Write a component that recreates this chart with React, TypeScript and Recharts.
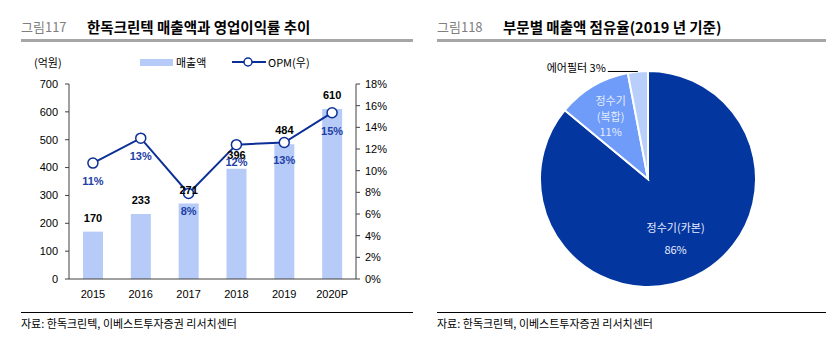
import React from "react";
import {
  ComposedChart,
  Bar,
  Line,
  XAxis,
  YAxis,
  LabelList,
  PieChart,
  Pie,
  Cell,
} from "recharts";

// 그림117 data
const years = ["2015", "2016", "2017", "2018", "2019", "2020P"];
const sales = [170, 233, 271, 396, 484, 610];
const opm = [10.7, 13.0, 7.9, 12.4, 12.6, 15.35];
const salesTicks = [0, 100, 200, 300, 400, 500, 600, 700];
const opmTicks = [0, 2, 4, 6, 8, 10, 12, 14, 16, 18];

// 그림118 data
const segNames = ["정수기(카본)", "정수기\n(복합)", "에어필터"];
const segShares = [86, 11, 3];
const segColors = ["#0436A0", "#6F9CF8", "#B8CEFB"];

const NUM_FONT = "'Liberation Sans', Arial, sans-serif";
const KR_FONT = "'Noto Sans CJK KR', 'Noto Sans', sans-serif";
const BAR_COLOR = "#B6CBF7";
const LINE_COLOR = "#0B2F96";
const OPM_LABEL = "#1E40A6";

const comboData = years.map((year, i) => ({ year, sales: sales[i], opm: opm[i] }));
const pieData = segNames.map((name, i) => ({ name, value: segShares[i] }));

const RAD = Math.PI / 180;

function PieLabel(props: any) {
  const { cx, cy, midAngle, outerRadius, index, name, value } = props;
  const cos = Math.cos(-midAngle * RAD);
  const sin = Math.sin(-midAngle * RAD);
  if (index === 2) {
    // small slice: outside label with leader line
    const ex = cx + outerRadius * cos;
    const ey = cy + outerRadius * sin;
    return (
      <g>
        <line x1={ex} y1={ey} x2={ex - 30} y2={ey} stroke="#000" strokeWidth={1} />
        <text x={ex - 32} y={ey + 1} textAnchor="end" fontSize={11} fill="#000" fontFamily={KR_FONT}>
          {`${name}  ${value}%`}
        </text>
      </g>
    );
  }
  const r = index === 0 ? outerRadius * 0.6 : outerRadius * 0.68;
  const x = cx + r * cos;
  const y = cy + r * sin;
  const lines: string[] = [...String(name).split("\n"), `${value}%`];
  const gap = index === 0 ? 22 : 15.5;
  const y0 = y - ((lines.length - 1) * gap) / 2;
  return (
    <text textAnchor="middle" fontSize={11} fill="#E4ECFF" fontFamily={KR_FONT}>
      {lines.map((t, k) => (
        <tspan key={k} x={x} y={y0 + k * gap} dominantBaseline="central">
          {t}
        </tspan>
      ))}
    </text>
  );
}

function Header({ left, width, num, title }: { left: number; width: number; num: string; title: string }) {
  return (
    <>
      <div
        style={{
          position: "absolute",
          left,
          top: 18,
          fontSize: 13,
          color: "#7F7F7F",
          fontFamily: KR_FONT,
          lineHeight: "18px",
        }}
      >
        {num}
      </div>
      <div
        style={{
          position: "absolute",
          left: left + 66,
          top: 17,
          fontSize: 14.5,
          fontWeight: 700,
          color: "#000",
          fontFamily: KR_FONT,
          lineHeight: "20px",
          whiteSpace: "nowrap",
        }}
      >
        {title}
      </div>
      <div style={{ position: "absolute", left, top: 39, width, height: 3, background: "#A6A6A6" }} />
    </>
  );
}

function Source({ left, width }: { left: number; width: number }) {
  return (
    <>
      <div style={{ position: "absolute", left, top: 312, width, height: 1, background: "#000" }} />
      <div
        style={{
          position: "absolute",
          left,
          top: 316,
          fontSize: 11,
          color: "#000",
          fontFamily: KR_FONT,
          lineHeight: "14px",
          whiteSpace: "nowrap",
        }}
      >
        자료: 한독크린텍, 이베스트투자증권 리서치센터
      </div>
    </>
  );
}

export default function App() {
  const tick = { fontSize: 11, fill: "#000", fontFamily: NUM_FONT };
  return (
    <div style={{ position: "absolute", left: 0, top: 0, width: 834, height: 355, background: "#fff" }}>
      <Header left={21} width={392} num="그림117" title="한독크린텍 매출액과 영업이익률 추이" />
      <Header left={437} width={389} num="그림118" title="부문별 매출액 점유율(2019 년 기준)" />

      {/* left legend */}
      <div style={{ position: "absolute", left: 34, top: 54, fontSize: 11, fontFamily: KR_FONT, lineHeight: "16px" }}>
        (억원)
      </div>
      <div style={{ position: "absolute", left: 140, top: 59, width: 33, height: 7, background: BAR_COLOR }} />
      <div style={{ position: "absolute", left: 176, top: 54, fontSize: 11, fontFamily: KR_FONT, lineHeight: "16px" }}>
        매출액
      </div>
      <svg style={{ position: "absolute", left: 231, top: 56 }} width={36} height={12}>
        <line x1={1} y1={6} x2={35} y2={6} stroke={LINE_COLOR} strokeWidth={2} />
        <circle cx={17} cy={6} r={4} fill="#fff" stroke={LINE_COLOR} strokeWidth={1.5} />
      </svg>
      <div style={{ position: "absolute", left: 268, top: 54, fontSize: 11, fontFamily: KR_FONT, lineHeight: "16px" }}>
        OPM(우)
      </div>

      <div style={{ position: "absolute", left: 0, top: 50 }}>
        <ComposedChart width={420} height={260} data={comboData} margin={{ top: 34, right: 24, bottom: 1, left: 9 }}>
          <XAxis
            dataKey="year"
            tick={tick}
            tickLine={false}
            axisLine={{ stroke: "#404040" }}
            tickMargin={5}
            height={30}
          />
          <YAxis
            yAxisId="left"
            domain={[0, 700]}
            ticks={salesTicks}
            tick={tick}
            tickSize={4}
            tickMargin={7}
            axisLine={{ stroke: "#404040" }}
            tickLine={{ stroke: "#404040" }}
            width={60}
            interval={0}
          />
          <YAxis
            yAxisId="right"
            orientation="right"
            domain={[0, 18]}
            ticks={opmTicks}
            tick={tick}
            tickFormatter={(v: number) => `${v}%`}
            tickSize={4}
            tickMargin={5}
            axisLine={{ stroke: "#404040" }}
            tickLine={{ stroke: "#404040" }}
            width={40}
            interval={0}
          />
          <Bar yAxisId="left" dataKey="sales" fill={BAR_COLOR} barSize={20} isAnimationActive={false}>
            <LabelList
              dataKey="sales"
              position="top"
              offset={10}
              style={{ fontSize: 11, fontWeight: 700, fill: "#000", fontFamily: NUM_FONT }}
            />
          </Bar>
          <Line
            yAxisId="right"
            dataKey="opm"
            stroke={LINE_COLOR}
            strokeWidth={2}
            dot={{ r: 5, fill: "#fff", stroke: LINE_COLOR, strokeWidth: 1.5 }}
            isAnimationActive={false}
          >
            <LabelList
              dataKey="opm"
              position="bottom"
              offset={14}
              formatter={(v: any) => `${Math.round(Number(v))}%`}
              style={{ fontSize: 11, fontWeight: 700, fill: OPM_LABEL, fontFamily: NUM_FONT }}
            />
          </Line>
        </ComposedChart>
      </div>

      <div style={{ position: "absolute", left: 420, top: 50 }}>
        <PieChart width={414} height={250}>
          <Pie
            data={pieData}
            dataKey="value"
            nameKey="name"
            cx={223}
            cy={124}
            outerRadius={108}
            startAngle={90}
            endAngle={-270}
            stroke="#fff"
            strokeWidth={2}
            labelLine={false}
            label={PieLabel}
            isAnimationActive={false}
          >
            {pieData.map((d, i) => (
              <Cell key={d.name} fill={segColors[i]} />
            ))}
          </Pie>
        </PieChart>
      </div>

      <Source left={21} width={392} />
      <Source left={437} width={389} />
    </div>
  );
}
